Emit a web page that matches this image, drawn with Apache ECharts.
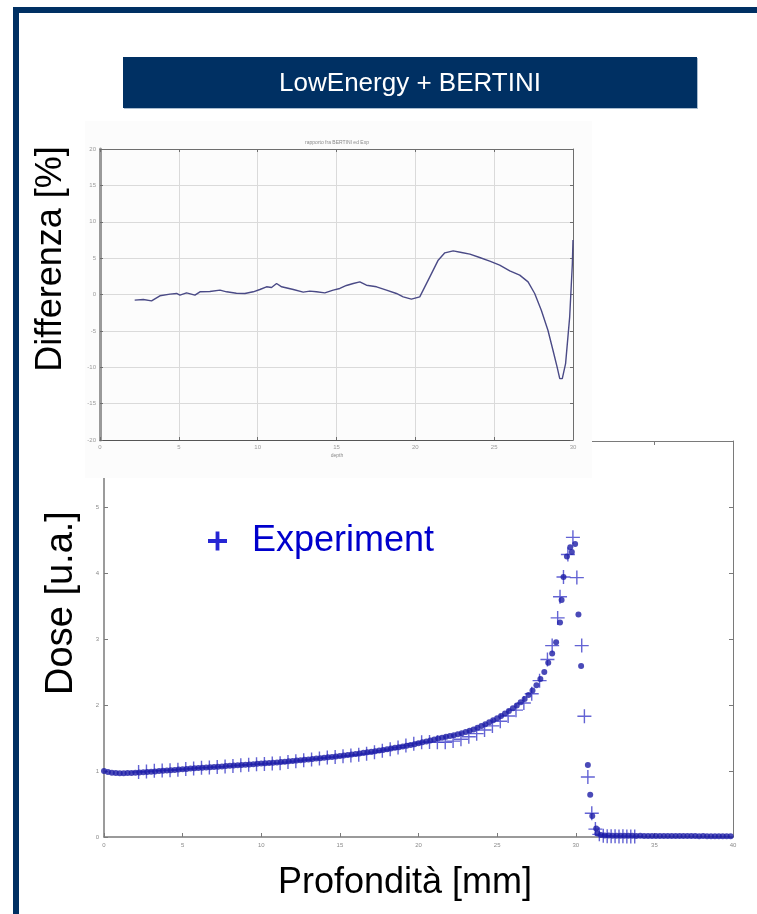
<!DOCTYPE html>
<html>
<head>
<meta charset="utf-8">
<script src="https://cdn.jsdelivr.net/npm/echarts@6/dist/echarts.min.js"></script>
<style>
  html, body { margin: 0; padding: 0; background: #ffffff; }
  #chart { width: 757px; height: 914px; }
</style>
</head>
<body>
<div id="chart"></div>
<script>
// Percent difference between simulation and measurement along depth (mm)
const depthDiff = [2.2, 2.75, 3.27, 3.8, 4.44, 4.86, 5.07, 5.49, 6.02, 6.34, 6.97, 7.61, 8.03, 8.65, 9.19, 9.72, 10.14, 10.56, 10.88, 11.2, 11.52, 12.26, 12.89, 13.31, 13.73, 14.26, 14.79, 15.21, 15.63, 16.06, 16.48, 16.9, 17.54, 18.17, 18.8, 19.23, 19.75, 20.28, 20.92, 21.45, 21.87, 22.4, 22.93, 23.46, 24.08, 24.72, 25.35, 25.99, 26.62, 27.15, 27.57, 27.99, 28.41, 28.73, 28.99, 29.16, 29.32, 29.53, 29.79, 29.96, 30.0];
const diffPct = [-0.78, -0.69, -0.87, -0.18, 0.05, 0.14, -0.09, 0.23, -0.09, 0.37, 0.41, 0.6, 0.37, 0.18, 0.14, 0.37, 0.69, 1.06, 0.96, 1.51, 1.06, 0.69, 0.32, 0.46, 0.37, 0.23, 0.6, 0.83, 1.24, 1.51, 1.74, 1.28, 1.06, 0.6, 0.14, -0.32, -0.64, -0.32, 2.43, 4.72, 5.73, 6.0, 5.78, 5.55, 5.09, 4.59, 4.04, 3.26, 2.66, 1.74, 0.14, -2.16, -4.91, -7.66, -9.95, -11.56, -11.56, -9.5, -3.07, 4.27, 7.48];

// Measured depth-dose (arbitrary units)
const depthExp = [2.2, 2.7, 3.2, 3.7, 4.2, 4.7, 5.2, 5.7, 6.2, 6.7, 7.2, 7.7, 8.2, 8.7, 9.2, 9.7, 10.2, 10.7, 11.2, 11.7, 12.2, 12.7, 13.2, 13.7, 14.2, 14.7, 15.2, 15.7, 16.2, 16.7, 17.2, 17.7, 18.2, 18.7, 19.2, 19.7, 20.2, 20.7, 21.2, 21.7, 22.2, 22.7, 23.2, 23.7, 24.2, 24.7, 25.2, 25.7, 26.2, 26.7, 27.2, 27.7, 28.2, 28.5, 28.85, 29.0, 29.22, 29.5, 29.82, 30.07, 30.38, 30.55, 30.77, 31.02, 31.25, 31.5, 31.75, 32.0, 32.25, 32.5, 32.75, 33.0, 33.25, 33.5, 33.75];
const doseExp = [0.985, 0.992, 1.002, 1.007, 1.012, 1.020, 1.030, 1.037, 1.049, 1.053, 1.060, 1.067, 1.077, 1.087, 1.096, 1.103, 1.107, 1.115, 1.118, 1.135, 1.149, 1.164, 1.176, 1.189, 1.203, 1.213, 1.224, 1.233, 1.246, 1.262, 1.284, 1.306, 1.330, 1.356, 1.385, 1.413, 1.437, 1.438, 1.434, 1.436, 1.453, 1.482, 1.520, 1.566, 1.621, 1.683, 1.753, 1.834, 1.922, 2.030, 2.171, 2.369, 2.690, 2.900, 3.320, 3.640, 3.940, 4.280, 4.540, 3.930, 2.900, 1.830, 0.910, 0.360, 0.120, 0.040, 0.018, 0.012, 0.010, 0.011, 0.009, 0.010, 0.008, 0.009, 0.008];

// Simulated depth-dose (LowEnergy + BERTINI)
const depthSim = [0, 0.25, 0.5, 0.75, 1, 1.25, 1.5, 1.75, 2, 2.25, 2.5, 2.75, 3, 3.25, 3.5, 3.75, 4, 4.25, 4.5, 4.75, 5, 5.25, 5.5, 5.75, 6, 6.25, 6.5, 6.75, 7, 7.25, 7.5, 7.75, 8, 8.25, 8.5, 8.75, 9, 9.25, 9.5, 9.75, 10, 10.25, 10.5, 10.75, 11, 11.25, 11.5, 11.75, 12, 12.25, 12.5, 12.75, 13, 13.25, 13.5, 13.75, 14, 14.25, 14.5, 14.75, 15, 15.25, 15.5, 15.75, 16, 16.25, 16.5, 16.75, 17, 17.25, 17.5, 17.75, 18, 18.25, 18.5, 18.75, 19, 19.25, 19.5, 19.75, 20, 20.25, 20.5, 20.75, 21, 21.25, 21.5, 21.75, 22, 22.25, 22.5, 22.75, 23, 23.25, 23.5, 23.75, 24, 24.25, 24.5, 24.75, 25, 25.25, 25.5, 25.75, 26, 26.25, 26.5, 26.75, 27, 27.25, 27.5, 27.75, 28, 28.25, 28.5, 28.75, 29.0, 29.1, 29.22, 29.44, 29.65, 29.75, 29.96, 30.17, 30.34, 30.77, 30.92, 31.05, 31.3, 31.38, 31.6, 31.85, 32.1, 32.35, 32.6, 32.85, 33.1, 33.35, 33.6, 33.85, 34.1, 34.35, 34.6, 34.85, 35.1, 35.35, 35.6, 35.85, 36.1, 36.35, 36.6, 36.85, 37.1, 37.35, 37.6, 37.85, 38.1, 38.35, 38.6, 38.85, 39.1, 39.35, 39.6, 39.85];
const doseSim = [1.000, 0.985, 0.972, 0.968, 0.966, 0.966, 0.968, 0.971, 0.975, 0.978, 0.982, 0.986, 0.990, 0.994, 0.999, 1.003, 1.008, 1.012, 1.017, 1.022, 1.027, 1.031, 1.036, 1.040, 1.045, 1.049, 1.053, 1.058, 1.062, 1.066, 1.070, 1.074, 1.078, 1.082, 1.086, 1.090, 1.094, 1.099, 1.103, 1.108, 1.112, 1.116, 1.121, 1.125, 1.130, 1.135, 1.141, 1.146, 1.152, 1.158, 1.164, 1.170, 1.176, 1.182, 1.188, 1.194, 1.200, 1.207, 1.214, 1.221, 1.228, 1.235, 1.243, 1.250, 1.258, 1.266, 1.275, 1.283, 1.292, 1.301, 1.311, 1.320, 1.330, 1.340, 1.351, 1.361, 1.372, 1.383, 1.395, 1.407, 1.420, 1.434, 1.448, 1.463, 1.478, 1.492, 1.505, 1.518, 1.530, 1.543, 1.556, 1.572, 1.590, 1.609, 1.630, 1.654, 1.680, 1.708, 1.738, 1.768, 1.800, 1.835, 1.872, 1.910, 1.950, 1.993, 2.040, 2.092, 2.150, 2.220, 2.300, 2.395, 2.500, 2.640, 2.780, 2.950, 3.250, 3.590, 3.940, 4.250, 4.390, 4.320, 4.440, 3.370, 2.590, 1.090, 0.640, 0.320, 0.130, 0.056, 0.030, 0.024, 0.021, 0.020, 0.019, 0.020, 0.018, 0.019, 0.018, 0.017, 0.018, 0.017, 0.016, 0.017, 0.016, 0.016, 0.015, 0.016, 0.015, 0.015, 0.014, 0.015, 0.014, 0.014, 0.014, 0.013, 0.014, 0.013, 0.013, 0.013, 0.012, 0.013, 0.012, 0.012];

// Axis tick settings
const diffAxisX = { min: 0, max: 30, step: 5 };
const diffAxisY = { min: -20, max: 20, step: 5 };
const doseAxisX = { min: 0, max: 40, step: 5 };
const doseAxisY = { min: 0, max: 6, step: 1 };

const FONT = 'Liberation Sans, Arial, sans-serif';
const PLUS_MARK = 'path://M9,0H11V9H20V11H11V20H9V11H0V9H9Z';
const PLUS_ICON = 'path://M8,0H12V8H20V12H12V20H8V12H0V8H8Z';

function zip(xs, ys) {
  const n = Math.min(xs.length, ys.length);
  const out = [];
  for (let i = 0; i < n; i++) out.push([xs[i], ys[i]]);
  return out;
}

// MATLAB-style boxed axis: main axis with labels plus a mirrored one with ticks only
function boxAxes(kind, grid, range, z, opts) {
  const lineColor = opts.lineColor;
  const main = {
    type: 'value', gridIndex: grid, min: range.min, max: range.max, interval: range.step,
    position: kind === 'x' ? 'bottom' : 'left', z: z,
    axisLine: { show: true, onZero: false, lineStyle: { color: opts.mainLineColor || lineColor, width: opts.mainLineWidth || 1 } },
    axisTick: { show: true, inside: true, length: opts.tickLen, lineStyle: { color: lineColor } },
    axisLabel: { show: true, fontSize: opts.labelSize, color: opts.labelColor, margin: opts.labelMargin, fontFamily: FONT },
    splitLine: { show: !!opts.split, lineStyle: { color: '#dadada', width: 1 } }
  };
  const mirror = {
    type: 'value', gridIndex: grid, min: range.min, max: range.max, interval: range.step,
    position: kind === 'x' ? 'top' : 'right', z: z,
    axisLine: { show: true, onZero: false, lineStyle: { color: lineColor, width: 1 } },
    axisTick: { show: true, inside: true, length: opts.tickLen, lineStyle: { color: lineColor } },
    axisLabel: { show: false },
    splitLine: { show: false }
  };
  return [main, mirror];
}

const topOpts = { lineColor: '#6e6e6e', mainLineColor: '#9a9a9a', tickLen: 3, labelSize: 6, labelColor: '#9a9a9a', labelMargin: 4, split: true };
const botOpts = { lineColor: '#7a7a7a', tickLen: 4, labelSize: 6, labelColor: '#8a8a8a', labelMargin: 5, split: false };

const topX = boxAxes('x', 0, diffAxisX, 60, topOpts);
const topY = boxAxes('y', 0, diffAxisY, 60, topOpts);
topY[0].axisLine.lineStyle.width = 3;
topX[0].axisLine.lineStyle.color = '#555';
const botX = boxAxes('x', 1, doseAxisX, 1, botOpts);
const botY = boxAxes('y', 1, doseAxisY, 1, botOpts);
botX[0].axisLine.lineStyle.width = 1.5;
botY[0].axisLine.lineStyle.width = 1.5;

function txt(text, x, y, font, fill, z, rot) {
  return {
    type: 'text', x: x, y: y, z: z, rotation: rot || 0,
    style: { text: text, font: font, fill: fill, textAlign: 'center', textVerticalAlign: 'middle', align: 'center', verticalAlign: 'middle' }
  };
}

const chart = echarts.init(document.getElementById('chart'), null, { renderer: 'canvas' });
chart.setOption({
  backgroundColor: '#ffffff',
  animation: false,
  grid: [
    { left: 100, top: 149, width: 473, height: 291 },
    { left: 104, top: 441, width: 629, height: 396 }
  ],
  xAxis: [topX[0], topX[1], botX[0], botX[1]],
  yAxis: [topY[0], topY[1], botY[0], botY[1]],
  legend: {
    data: [{ name: 'Experiment', icon: PLUS_ICON }],
    left: 208, top: 521, padding: 0, itemWidth: 19, itemHeight: 19,
    selectedMode: false,
    itemStyle: { color: '#0000cc' },
    textStyle: { fontSize: 36, lineHeight: 40, color: '#0000cc', fontFamily: FONT, padding: [0, 0, 0, 20] }
  },
  series: [
    {
      name: 'Differenza', type: 'line', xAxisIndex: 0, yAxisIndex: 0, z: 70,
      data: zip(depthDiff, diffPct), showSymbol: false, smooth: false,
      lineStyle: { color: '#4a4a86', width: 1.4 }
    },
    {
      name: 'Experiment', type: 'scatter', xAxisIndex: 2, yAxisIndex: 2, z: 2,
      data: zip(depthExp, doseExp), symbol: PLUS_MARK, symbolSize: 14,
      itemStyle: { color: '#4848cc', opacity: 0.85 }
    },
    {
      name: 'LowEnergy + BERTINI', type: 'scatter', xAxisIndex: 2, yAxisIndex: 2, z: 3,
      data: zip(depthSim, doseSim), symbol: 'circle', symbolSize: 6,
      itemStyle: { color: '#1d1da6' }
    }
  ],
  graphic: { elements: [
    // page frame
    { type: 'rect', z: 100, shape: { x: 13, y: 7, width: 6, height: 907 }, style: { fill: '#003063' } },
    { type: 'rect', z: 100, shape: { x: 13, y: 7, width: 744, height: 6 }, style: { fill: '#003063' } },
    // title banner
    { type: 'rect', z: 100, shape: { x: 124, y: 58, width: 574, height: 51 }, style: { fill: '#a9bccf' } },
    { type: 'rect', z: 101, shape: { x: 123, y: 57, width: 574, height: 51 }, style: { fill: '#003063' } },
    txt('LowEnergy + BERTINI', 410, 84, '26px ' + FONT, '#ffffff', 102),
    // panel for the difference plot, laid over the dose plot
    { type: 'rect', z: 50, shape: { x: 85, y: 121, width: 507, height: 357 }, style: { fill: '#fcfcfc' } },
    txt('rapporto fra BERTINI ed Exp', 337, 143, '5px ' + FONT, '#8a8a8a', 61),
    txt('depth', 337, 456, '5px ' + FONT, '#8a8a8a', 61),
    // axis titles
    txt('Differenza [%]', 51, 259, '36px ' + FONT, '#000000', 100, Math.PI / 2),
    txt('Dose [u.a.]', 62, 603, '38px ' + FONT, '#000000', 100, Math.PI / 2),
    txt('Profondità [mm]', 405, 883, '36px ' + FONT, '#000000', 100)
  ] }
});
</script>
</body>
</html>
